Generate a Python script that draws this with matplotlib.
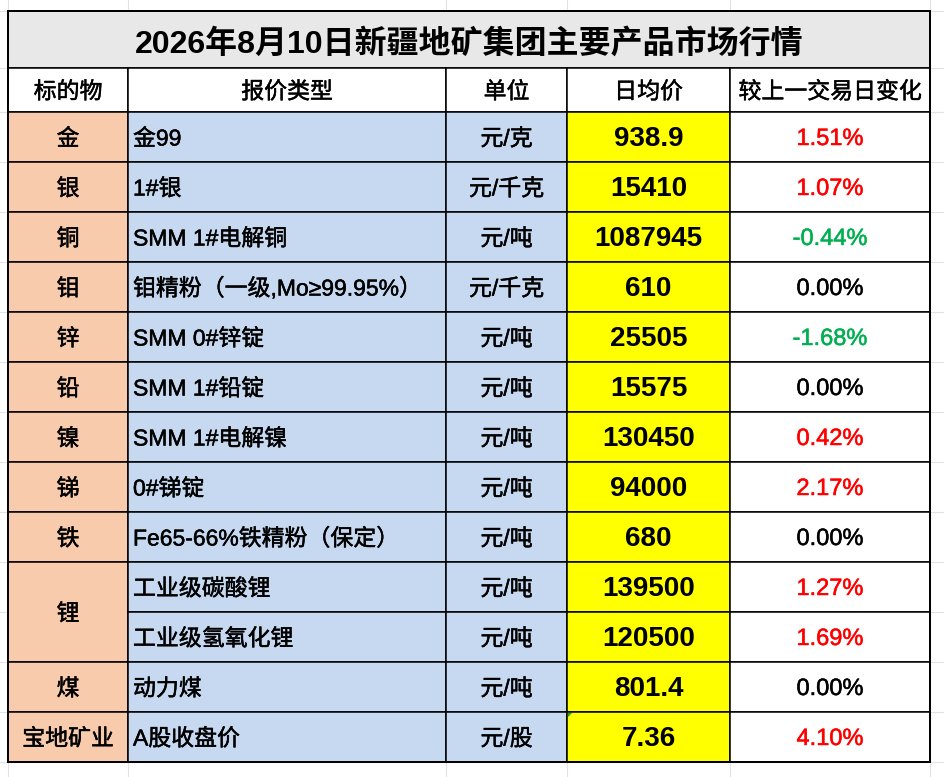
import matplotlib
matplotlib.use("Agg")
import matplotlib.pyplot as plt
import matplotlib.patheffects as pe
from matplotlib.patches import Rectangle, Polygon

plt.rcParams['font.family'] = ['Liberation Sans', 'Noto Sans CJK SC', 'DejaVu Sans']

# ---- データ ----
title = '2026年8月10日新疆地矿集团主要产品市场行情'
headers = ['标的物', '报价类型', '单位', '日均价', '较上一交易日变化']
subjects = ['金', '银', '铜', '钼', '锌', '铅', '镍', '锑', '铁', '锂', '煤', '宝地矿业']
subject_spans = [1, 1, 1, 1, 1, 1, 1, 1, 1, 2, 1, 1]
quote_types = ['金99', '1#银', 'SMM 1#电解铜', '钼精粉（一级,Mo≥99.95%）', 'SMM 0#锌锭',
               'SMM 1#铅锭', 'SMM 1#电解镍', '0#锑锭', 'Fe65-66%铁精粉（保定）',
               '工业级碳酸锂', '工业级氢氧化锂', '动力煤', 'A股收盘价']
units = ['元/克', '元/千克', '元/吨', '元/千克', '元/吨', '元/吨', '元/吨', '元/吨',
         '元/吨', '元/吨', '元/吨', '元/吨', '元/股']
prices = [938.9, 15410, 1087945, 610, 25505, 15575, 130450, 94000, 680,
          139500, 120500, 801.4, 7.36]
changes = [1.51, 1.07, -0.44, 0.00, -1.68, 0.00, 0.42, 2.17, 0.00,
           1.27, 1.69, 0.00, 4.10]

# ---- レイアウト（ピクセル座標） ----
W, H = 945, 777
col_x = [8, 128, 446, 567, 730, 930]
y_top, y_title, y_head = 11, 68, 112
row_h = 50
n_rows = len(quote_types)
row_y = [y_head + i * row_h for i in range(n_rows + 1)]

c_title = '#E8E8E8'
c_orange = '#F8CBAD'
c_blue = '#C6D9F0'
c_yellow = '#FFFF00'
c_grid = '#E2E2E2'
fs_body = 16.5


def medium(color='black'):
    # 通常体に細い縁取りを足して中太に見せる
    return [pe.withStroke(linewidth=0.35, foreground=color)]


fig = plt.figure(figsize=(W / 100, H / 100), dpi=100)
ax = fig.add_axes([0, 0, 1, 1])
ax.set_xlim(0, W)
ax.set_ylim(H, 0)
ax.axis('off')

# 背景のシートの目盛り線
for y in [y_top, y_title, y_head] + row_y:
    ax.plot([0, W], [y, y], color=c_grid, lw=0.8, zorder=0)
for x in col_x:
    ax.plot([x, x], [0, H], color=c_grid, lw=0.8, zorder=0)


def cell(x0, x1, y0, y1, fc):
    ax.add_patch(Rectangle((x0, y0), x1 - x0, y1 - y0, facecolor=fc,
                           edgecolor='black', lw=1.1, zorder=2))


# タイトル
cell(col_x[0], col_x[-1], y_top, y_title, c_title)
ax.text((col_x[0] + col_x[-1]) / 2, (y_top + y_title) / 2 + 5, title,
        ha='center', va='center', fontsize=23, fontweight='bold', zorder=3)

# ヘッダー
for j, h in enumerate(headers):
    cell(col_x[j], col_x[j + 1], y_title, y_head, 'white')
    ax.text((col_x[j] + col_x[j + 1]) / 2, (y_title + y_head) / 2 + 2, h,
            ha='center', va='center', fontsize=fs_body, zorder=3,
            path_effects=medium())

# 標的物（結合セル）
r = 0
for s, span in zip(subjects, subject_spans):
    y0, y1 = row_y[r], row_y[r + span]
    cell(col_x[0], col_x[1], y0, y1, c_orange)
    ax.text((col_x[0] + col_x[1]) / 2, (y0 + y1) / 2 + 2, s,
            ha='center', va='center', fontsize=fs_body, zorder=3,
            path_effects=medium())
    r += span

# 各行
for i in range(n_rows):
    y0, y1 = row_y[i], row_y[i + 1]
    yc = (y0 + y1) / 2 + 2
    cell(col_x[1], col_x[2], y0, y1, c_blue)
    cell(col_x[2], col_x[3], y0, y1, c_blue)
    cell(col_x[3], col_x[4], y0, y1, c_yellow)
    cell(col_x[4], col_x[5], y0, y1, 'white')
    ax.text(col_x[1] + 5, yc, quote_types[i], ha='left', va='center',
            fontsize=fs_body, zorder=3, path_effects=medium())
    ax.text((col_x[2] + col_x[3]) / 2, yc, units[i], ha='center', va='center',
            fontsize=fs_body, zorder=3, path_effects=medium())
    ax.text((col_x[3] + col_x[4]) / 2, yc, f"{prices[i]:.10g}", ha='center',
            va='center', fontsize=20, fontweight='bold', zorder=3)
    c = changes[i]
    color = '#FF0000' if c > 0 else ('#00B050' if c < 0 else 'black')
    ax.text((col_x[4] + col_x[5]) / 2, yc, f"{c:.2f}%", ha='center',
            va='center', fontsize=17, color=color, zorder=3,
            path_effects=medium(color))

# 外枠
ax.add_patch(Rectangle((col_x[0], y_top), col_x[-1] - col_x[0], row_y[-1] - y_top,
                       facecolor='none', edgecolor='black', lw=1.4, zorder=4))

# エラー表示の小さな緑三角
xg, yg = col_x[3], row_y[-2]
ax.add_patch(Polygon([[xg + 1, yg + 1], [xg + 5, yg + 1], [xg + 1, yg + 5]],
                     closed=True, facecolor='#1E9E3A', edgecolor='none', zorder=5))

fig.savefig('out.png', dpi=100)
